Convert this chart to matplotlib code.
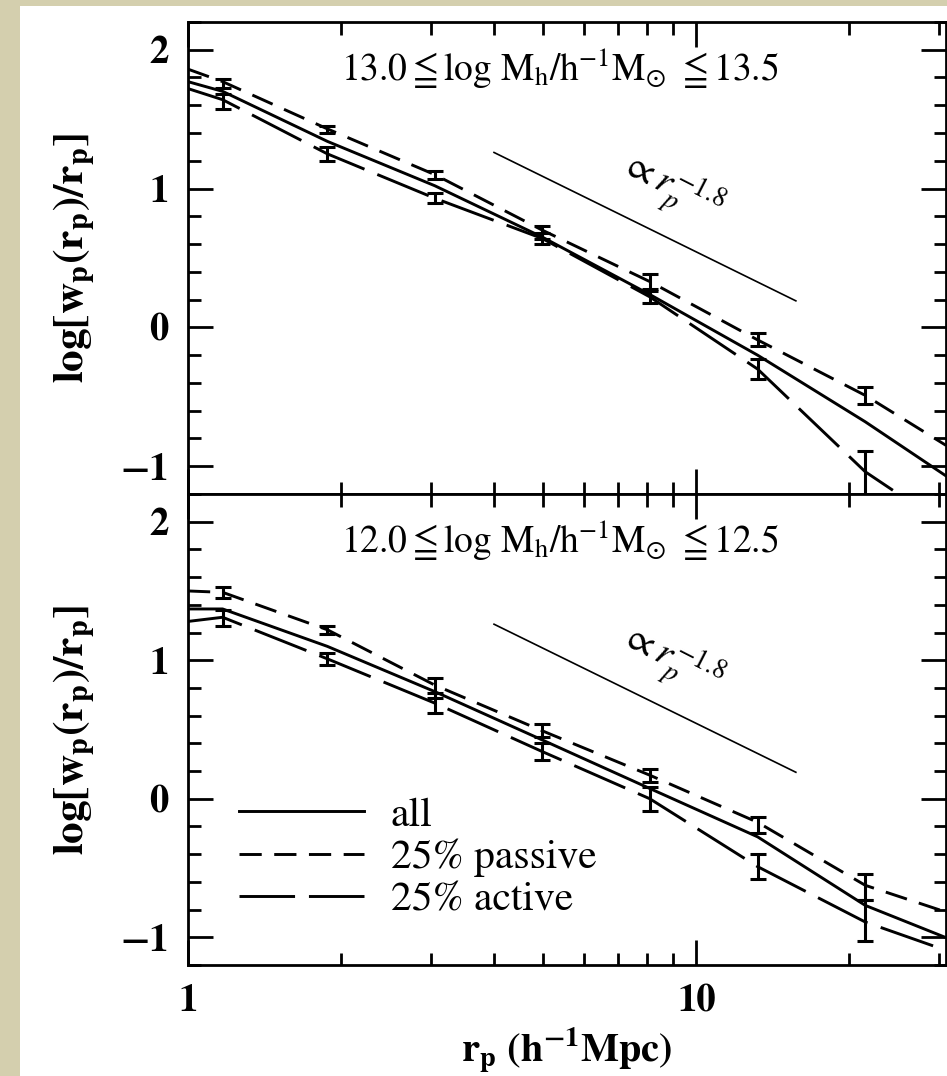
import matplotlib
matplotlib.use("Agg")
import matplotlib.pyplot as plt
from matplotlib.patches import Rectangle
from matplotlib.ticker import MultipleLocator, FixedLocator, FuncFormatter, NullFormatter
import numpy as np

plt.rcParams['font.family'] = ['STIXGeneral', 'DejaVu Serif']
plt.rcParams['mathtext.fontset'] = 'stix'
plt.rcParams['lines.scale_dashes'] = False

# bin centres of the measured points (h^-1 Mpc)
r_bins = [1.17, 1.88, 3.06, 4.98, 8.1, 13.2, 21.5]
# the curves run across the whole axis
r_line = [1.0, 1.17, 1.88, 3.06, 4.98, 8.1, 13.2, 21.5, 31.0]

# 13.0 <= log Mh <= 13.5
hi_all = [1.77, 1.70, 1.34, 1.02, 0.65, 0.237, -0.20, -0.68, -1.07]
hi_pas = [1.86, 1.77, 1.43, 1.10, 0.70, 0.33, -0.09, -0.49, -0.85]
hi_act = [1.72, 1.64, 1.25, 0.93, 0.64, 0.22, -0.30, -1.04, -1.43]
hi_pas_pts = [1.756, 1.426, 1.098, 0.684, 0.33, -0.086, -0.49]
hi_pas_err = [0.035, 0.026, 0.030, 0.045, 0.057, 0.048, 0.064]
hi_act_pts = [1.627, 1.251, 0.931, 0.638, 0.217, -0.30, -1.10]
hi_act_err = [0.053, 0.050, 0.036, 0.040, 0.044, 0.075, 0.21]

# 12.0 <= log Mh <= 12.5
lo_all = [1.37, 1.37, 1.10, 0.773, 0.424, 0.074, -0.275, -0.77, -1.003]
lo_pas = [1.50, 1.49, 1.22, 0.82, 0.49, 0.17, -0.17, -0.625, -0.818]
lo_act = [1.28, 1.31, 1.01, 0.69, 0.34, 0.0, -0.49, -0.89, -1.095]
lo_pas_pts = [1.49, 1.217, 0.80, 0.493, 0.17, -0.19, -0.64]
lo_pas_err = [0.042, 0.027, 0.07, 0.046, 0.048, 0.058, 0.094]
lo_act_pts = [1.306, 1.01, 0.69, 0.34, 0.0, -0.49, -0.88]
lo_act_err = [0.058, 0.045, 0.07, 0.063, 0.087, 0.092, 0.15]

# reference power law  w_p/r_p ∝ r_p^-1.8
pl_r = [4.0, 15.7]
pl_amp = 1.26
pl_slope = -1.8

labels = ['all', '25% passive', '25% active']
panel_titles = [r'13.0$\leqq$log M$_{\rm h}$/h$^{-1}$M$_{\odot}$ $\leqq$13.5',
                r'12.0$\leqq$log M$_{\rm h}$/h$^{-1}$M$_{\odot}$ $\leqq$12.5']

fig = plt.figure(figsize=(9.47, 10.76), dpi=100, facecolor='#d4cfae')
fig.patches.append(Rectangle((20/947, 0), 1, 1 - 6/1076, transform=fig.transFigure,
                             facecolor='white', edgecolor='none', zorder=-1))

ax1 = fig.add_axes([0.1985, 0.5409, 0.8005, 0.4387])
ax2 = fig.add_axes([0.1985, 0.1032, 0.8005, 0.4377])

short = (0, (16, 9))
long_ = (0, (40, 10))

sets = [(ax1, hi_all, hi_pas, hi_act, hi_pas_pts, hi_pas_err, hi_act_pts, hi_act_err, panel_titles[0]),
        (ax2, lo_all, lo_pas, lo_act, lo_pas_pts, lo_pas_err, lo_act_pts, lo_act_err, panel_titles[1])]

for ax, a, p, c, pp, pe, cp, ce, title in sets:
    ax.plot(r_line, a, color='k', lw=2.1, label=labels[0])
    ax.plot(r_line, p, color='k', lw=2.1, linestyle=short, label=labels[1])
    ax.plot(r_line, c, color='k', lw=2.1, linestyle=long_, label=labels[2])
    ax.errorbar(r_bins, pp, yerr=pe, fmt='none', ecolor='k', elinewidth=2.2, capsize=6, capthick=2.2)
    ax.errorbar(r_bins, cp, yerr=ce, fmt='none', ecolor='k', elinewidth=2.2, capsize=6, capthick=2.2)

    pr = np.array(pl_r)
    ax.plot(pr, pl_amp + pl_slope * np.log10(pr / pl_r[0]), color='k', lw=1.2)
    ax.text(8.9, 1.0, r'$\propto r_p^{-1.8}$', fontsize=28, rotation=-27,
            ha='center', va='center', rotation_mode='anchor')
    ax.text(0.49, 0.90, title, transform=ax.transAxes, fontsize=27, ha='center', va='center')

    ax.set_xscale('log')
    ax.set_xlim(1, 31)
    ax.set_ylim(-1.2, 2.2)
    ax.xaxis.set_major_locator(FixedLocator([1, 10]))
    ax.xaxis.set_minor_locator(FixedLocator([2, 3, 4, 5, 6, 7, 8, 9, 20, 30]))
    ax.xaxis.set_major_formatter(FuncFormatter(lambda v, pos: '%g' % v))
    ax.xaxis.set_minor_formatter(NullFormatter())
    ax.yaxis.set_major_locator(MultipleLocator(1))
    ax.yaxis.set_minor_locator(MultipleLocator(0.2))
    ax.tick_params(which='both', direction='in', top=True, right=True, width=2)
    ax.tick_params(which='major', length=18, labelsize=28, pad=14)
    ax.tick_params(which='minor', length=9)
    for lab in ax.get_xticklabels() + ax.get_yticklabels():
        lab.set_fontweight('bold')
    for s in ax.spines.values():
        s.set_linewidth(2)
    ax.set_ylabel(r'$\mathbf{log[w_p(r_p)/r_p]}$', fontsize=31)
    ax.yaxis.set_label_coords(-0.12, 0.5)

ax1.tick_params(labelbottom=False)
ax2.set_xlabel(r'$\mathbf{r_p\ (h^{-1}Mpc)}$', fontsize=29)
ax2.xaxis.set_label_coords(0.5, -0.128)
ax2.legend(loc='upper left', bbox_to_anchor=(0.067, 0.358), frameon=False, fontsize=30,
           handlelength=3.0, handletextpad=0.65, labelspacing=0.1, borderaxespad=0, borderpad=0)

fig.savefig('out.png', dpi=100, facecolor=fig.get_facecolor())
